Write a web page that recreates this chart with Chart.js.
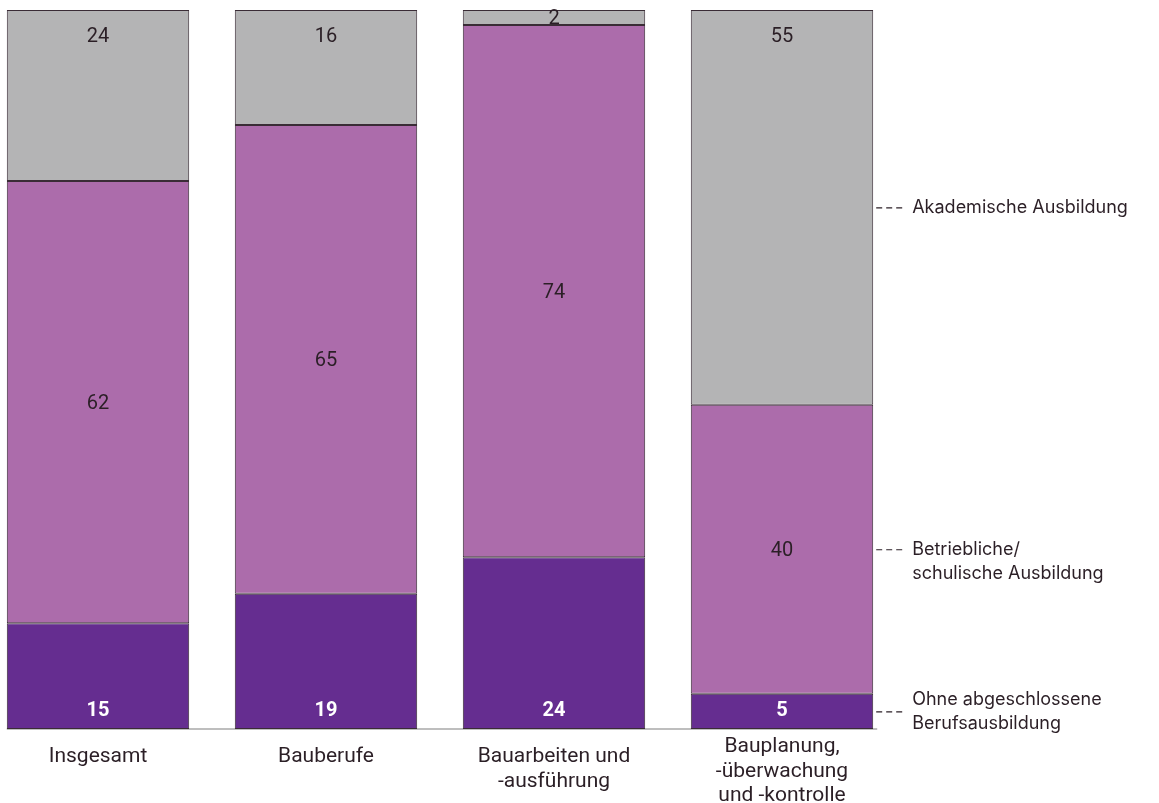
<!DOCTYPE html>
<html><head><meta charset="utf-8">
<script src="https://cdn.jsdelivr.net/npm/chart.js@4.4.1/dist/chart.umd.min.js"></script>
<style>html,body{margin:0;padding:0;background:#fff;} #wrap{width:1159px;height:803px;position:relative;}</style>
</head><body><div id="wrap"><canvas id="c"></canvas></div>
<script>
const categories = [["Insgesamt"],["Bauberufe"],["Bauarbeiten und","-ausführung"],["Bauplanung,","-überwachung","und -kontrolle"]];
const seriesNames = [["Ohne abgeschlossene","Berufsausbildung"],["Betriebliche/","schulische Ausbildung"],["Akademische Ausbildung"]];
const ohneAbschluss = [14.7, 18.8, 23.9, 4.9];
const betrieblich = [61.5, 65.2, 74.0, 40.2];
const akademisch = [23.8, 16.0, 2.1, 54.9];
const seriesColors = ["#652d90", "#ac6cab", "#b4b4b5"];

const TEXT = "#2b1f26";
const BORDER = "#3a2c36";

const overlay = {
  id: 'overlay',
  beforeDatasetsDraw(chart) {
    const ctx = chart.ctx;
    const first = chart.getDatasetMeta(0).data[0];
    const last = chart.getDatasetMeta(0).data[categories.length - 1];
    const y = chart.chartArea.bottom;
    ctx.save();
    ctx.strokeStyle = "#a8a8a8";
    ctx.lineWidth = 1.5;
    ctx.beginPath();
    ctx.moveTo(first.x - first.width / 2, y);
    ctx.lineTo(last.x + last.width / 2 + 4, y);
    ctx.stroke();
    ctx.restore();
  },
  afterDatasetsDraw(chart) {
    const ctx = chart.ctx;
    const area = chart.chartArea;
    ctx.save();
    ctx.textAlign = 'center';
    ctx.textBaseline = 'middle';
    chart.data.datasets.forEach((ds, di) => {
      const meta = chart.getDatasetMeta(di);
      meta.data.forEach((bar, i) => {
        const v = Math.round(ds.data[i]);
        const top = Math.min(bar.y, bar.base), bottom = Math.max(bar.y, bar.base);
        let y;
        if (di === 0) {
          ctx.fillStyle = '#ffffff';
          ctx.font = 'bold 20px Roboto';
          y = bottom - 18;
        } else if (di === 1) {
          ctx.fillStyle = TEXT;
          ctx.font = '20px Roboto';
          y = (top + bottom) / 2 + 1.5;
        } else {
          ctx.fillStyle = TEXT;
          ctx.font = '20px Roboto';
          y = Math.min(top + 27, (top + bottom) / 2 + 1.5);
        }
        ctx.fillText(String(v), bar.x, y);
      });
    });
    // category labels under the bars, positioned from the x scale
    const xs = chart.scales.x;
    ctx.font = '21px Roboto';
    ctx.fillStyle = TEXT;
    const clh = 24.5;
    categories.forEach((lines, i) => {
      const px = xs.getPixelForValue(i);
      let y0 = area.bottom + 28;
      const lastY = y0 + (lines.length - 1) * clh;
      if (lastY > 796) y0 -= lastY - 796;
      lines.forEach((t, k) => ctx.fillText(t, px, y0 + k * clh));
    });
    // right-side series labels
    ctx.textAlign = 'left';
    ctx.font = '18px Inter';
    chart.data.datasets.forEach((ds, di) => {
      const meta = chart.getDatasetMeta(di);
      const bar = meta.data[categories.length - 1];
      const top = Math.min(bar.y, bar.base), bottom = Math.max(bar.y, bar.base);
      const mid = (top + bottom) / 2;
      const right = bar.x + bar.width / 2;
      ctx.strokeStyle = TEXT;
      ctx.lineWidth = 1.1;
      ctx.setLineDash([6, 4]);
      ctx.beginPath();
      ctx.moveTo(right + 3, mid + 0.5);
      ctx.lineTo(right + 33, mid + 0.5);
      ctx.stroke();
      ctx.setLineDash([]);
      const lines = seriesNames[di];
      const lh = 24.5;
      let y0 = mid;
      const lastY = y0 + (lines.length - 1) * lh;
      if (lastY > area.bottom - 5) y0 -= lastY - (area.bottom - 5);
      ctx.fillStyle = TEXT;
      lines.forEach((t, k) => ctx.fillText(t, right + 39, y0 + k * lh));
    });
    ctx.restore();
  }
};

new Chart(document.getElementById('c'), {
  type: 'bar',
  data: {
    labels: categories,
    datasets: [ohneAbschluss, betrieblich, akademisch].map((d, i) => ({
      label: seriesNames[i].join(' '),
      data: d,
      backgroundColor: seriesColors[i],
      borderColor: BORDER,
      borderWidth: 1,
      borderSkipped: false,
      barPercentage: 0.8,
      categoryPercentage: 1,
      clip: false
    }))
  },
  options: {
    responsive: true,
    maintainAspectRatio: false,
    animation: false,
    layout: { padding: { left: 98, right: 377, top: 10, bottom: 0 } },
    plugins: { legend: { display: false }, tooltip: { enabled: false } },
    scales: {
      x: {
        stacked: true,
        offset: false,
        grid: { display: false },
        border: { display: false },
        ticks: { display: false },
        afterFit(scale) { scale.height = 74; }
      },
      y: {
        stacked: true,
        display: false,
        min: 0,
        max: 100
      }
    }
  },
  plugins: [overlay]
});
</script>
</body></html>
